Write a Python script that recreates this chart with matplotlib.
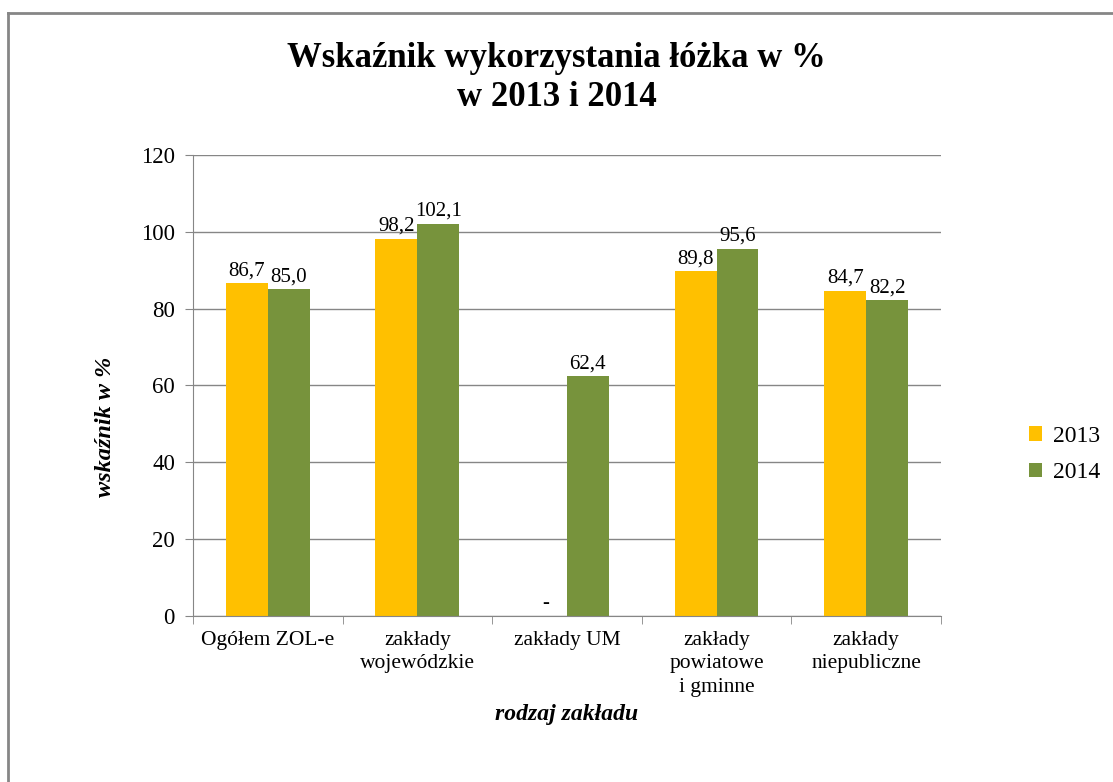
import numpy as np
import matplotlib.pyplot as plt
from matplotlib.lines import Line2D

plt.rcParams['font.family'] = ['Liberation Serif', 'DejaVu Serif']

# -----------------------------
# Data
# -----------------------------
categories = ["Ogółem ZOL-e", "zakłady\nwojewódzkie", "zakłady UM",
              "zakłady\npowiatowe\ni gminne", "zakłady\nniepubliczne"]
values_2013 = [86.7, 98.2, np.nan, 89.8, 84.7]
values_2014 = [85.0, 102.1, 62.4, 95.6, 82.2]
years = ["2013", "2014"]
colors = ["#FFC000", "#77933C"]

fig = plt.figure(figsize=(11.13, 7.82), dpi=100)
ax = fig.add_axes([0.1734, 0.2123, 0.672, 0.5895])

x = np.arange(len(categories))
w = 0.28

# -----------------------------
# Bars
# -----------------------------
for i, (vals, col, lab) in enumerate(zip([values_2013, values_2014], colors, years)):
    pos = x + (i - 0.5) * w
    heights = np.nan_to_num(vals)
    ax.bar(pos, heights, width=w, color=col, label=lab, zorder=3)
    for p, v in zip(pos, vals):
        txt = "-" if np.isnan(v) else f"{v:.1f}".replace(".", ",")
        y = 0 if np.isnan(v) else v
        ax.annotate(txt, (p, y), xytext=(0, 2), textcoords="offset points",
                    ha="center", va="bottom", fontsize=15)

# -----------------------------
# Axes styling
# -----------------------------
ax.set_ylim(0, 120)
ax.set_yticks(range(0, 121, 20))
ax.set_xlim(-0.5, len(categories) - 0.5)
ax.set_xticks(x)
ax.set_xticklabels(categories, fontsize=15.5, linespacing=1.3)
ax.set_xticks(np.arange(-0.5, len(categories)), minor=True)
ax.tick_params(axis="x", which="major", length=0, pad=11)
ax.tick_params(axis="x", which="minor", length=6, color="#868686")
ax.tick_params(axis="y", length=6, color="#868686", labelsize=16.5, pad=7)
ax.grid(axis="y", color="#868686", linewidth=1, zorder=0)
for s in ["top", "right"]:
    ax.spines[s].set_visible(False)
for s in ["left", "bottom"]:
    ax.spines[s].set_color("#868686")
    ax.spines[s].set_zorder(4)

ax.set_ylabel("wskaźnik w %", fontsize=17.5, fontweight="bold", style="italic")
ax.yaxis.set_label_coords(-0.103, 0.41)
ax.set_xlabel("rodzaj zakładu", fontsize=17, fontweight="bold", style="italic")
ax.xaxis.set_label_coords(0.5, -0.19)

fig.text(0.5, 0.90, "Wskaźnik wykorzystania łóżka w %\nw 2013 i 2014",
         ha="center", va="center", fontsize=25, fontweight="bold", linespacing=1.25)

ax.legend(loc="center left", bbox_to_anchor=(1.09, 0.35), frameon=False,
          fontsize=17, handlelength=0.55, handleheight=0.55, handletextpad=0.45,
          labelspacing=0.65)

# frame around the chart (cropped on right and bottom)
fig.add_artist(Line2D([0.0072, 0.0072], [0.0, 0.9834], color="#868686", lw=2,
                      transform=fig.transFigure))
fig.add_artist(Line2D([0.0072, 1.0], [0.9834, 0.9834], color="#868686", lw=2,
                      transform=fig.transFigure))

fig.savefig("out.png", dpi=100)
